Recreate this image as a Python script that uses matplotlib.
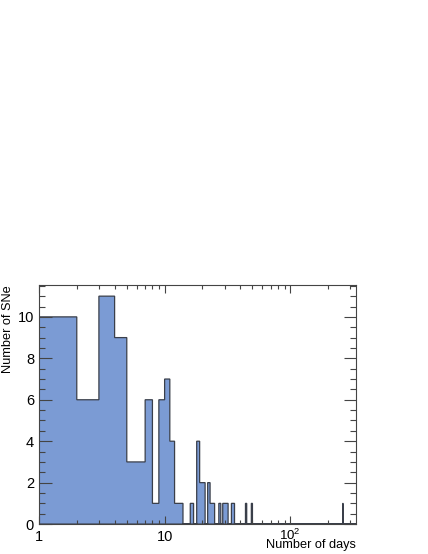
import numpy as np
import matplotlib
matplotlib.use("Agg")
import matplotlib.pyplot as plt
from matplotlib.ticker import FixedLocator, MultipleLocator, NullFormatter

plt.rcParams["font.family"] = ["Liberation Sans", "DejaVu Sans"]
plt.rcParams["mathtext.fontset"] = "custom"
plt.rcParams["mathtext.rm"] = "Liberation Sans"
plt.rcParams["mathtext.it"] = "Liberation Sans"

# Daily bins (bin [d, d+1)) and number of SNe in each
days = [1, 2, 3, 4, 5, 6, 7, 8, 9, 10, 11, 12, 13, 16, 18, 19, 20,
        22, 23, 24, 27, 29, 30, 31, 34, 35, 44, 49, 262]
counts = [10, 6, 11, 9, 3, 3, 6, 1, 6, 7, 4, 1, 1, 1, 4, 2, 2,
          2, 1, 1, 1, 1, 1, 1, 1, 1, 1, 1, 1]

x_min, x_max = 1, 334
edges = np.arange(x_min, x_max + 1)

fig = plt.figure(figsize=(4.28, 5.54), dpi=100)
ax = fig.add_axes([0.091, 0.054, 0.741, 0.432])

ax.hist(days, bins=edges, weights=counts, histtype="stepfilled",
        facecolor="#7b9bd4", edgecolor="#3a3f4a", linewidth=0.9)

ax.set_xscale("log")
ax.set_xlim(x_min, x_max)
ax.set_ylim(0, 11.55)

ax.xaxis.set_major_locator(FixedLocator([1, 10, 100]))
ax.set_xticklabels(["1", "10", ""])
# 10^2 label sits a bit higher and smaller, like ROOT draws it
ax.text(100, -0.016, r"$\mathregular{10^{2}}$", transform=ax.get_xaxis_transform(),
        ha="center", va="top", fontsize=9.5)
minors = [m * 10 ** e for e in range(0, 3) for m in range(2, 10)]
ax.xaxis.set_minor_locator(FixedLocator([v for v in minors if v < x_max]))
ax.xaxis.set_minor_formatter(NullFormatter())
ax.yaxis.set_major_locator(MultipleLocator(2))
ax.yaxis.set_minor_locator(MultipleLocator(0.5))

ax.tick_params(which="both", direction="in", top=True, right=True,
               labelsize=10.5, color="#444444", width=0.8)
ax.tick_params(axis="y", which="major", length=9)
ax.tick_params(axis="y", which="minor", length=4.5)
ax.tick_params(axis="x", which="major", length=6)
ax.tick_params(axis="x", which="minor", length=3)
ax.tick_params(axis="x", pad=4)

for sp in ax.spines.values():
    sp.set_color("#444444")
    sp.set_linewidth(0.8)

ax.set_xlabel("Number of days", fontsize=9.2, loc="right")
ax.xaxis.set_label_coords(1.0, -0.064)
ax.set_ylabel("Number of SNe", fontsize=9.2, loc="top")
ax.yaxis.set_label_coords(-0.078, 1.0)

fig.savefig("out.png", dpi=100)
